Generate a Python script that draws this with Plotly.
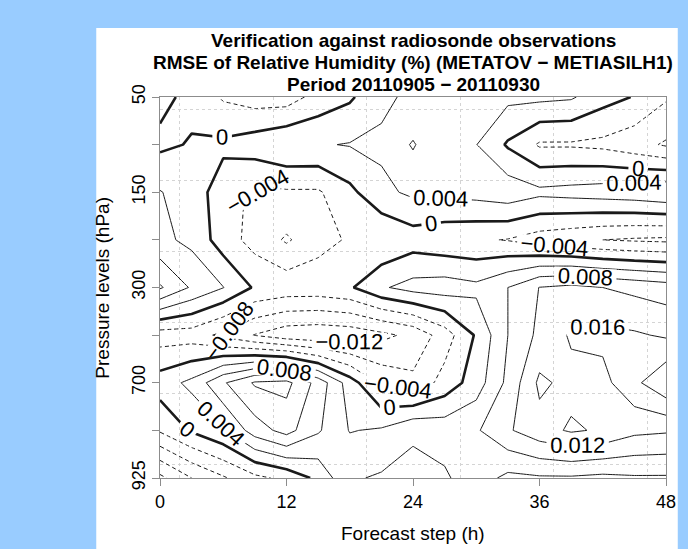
import plotly.graph_objects as go

# ---------------- data ----------------
steps = [0, 3, 6, 9, 12, 15, 18, 21, 24, 27, 30, 33, 36, 39, 42, 45, 48]
pressure_levels = ["50", "100", "150", "250", "300", "500", "700", "850", "925"]
ytick_labels = ["50", "", "150", "", "300", "", "700", "", "925"]
xtick_values = [0, 12, 24, 36, 48]

rmse_50 = [0.001, -0.001, -0.0045, -0.006, -0.006, -0.0025, -0.0006, 0.003, 0.005, 0.0055, 0.0055, 0.005, 0.005, 0.0045, 0.0015, -0.0002, -0.0035]
rmse_100 = [-0.0008, 0.0003, 0.0008, 0.0022, 0.0038, 0.0037, 0.0042, 0.0048, 0.0039, 0.005, 0.0041, -0.0005, -0.0045, -0.0045, -0.005, -0.0065, -0.0085]
rmse_150 = [0.0042, 0.002, -0.002, -0.005, -0.0045, -0.0045, -0.001, 0.003, 0.0048, 0.005, 0.0055, 0.0065, 0.005, 0.0055, 0.006, 0.0065, 0.0075]
rmse_250 = [0.005, 0.003, -0.002, -0.0055, -0.0085, -0.0055, -0.0035, -0.0038, -0.002, -0.003, -0.0035, -0.0042, -0.006, -0.007, -0.008, -0.0085, -0.0088]
rmse_300 = [0.0125, 0.0075, 0.0041, -0.0005, -0.0015, -0.0015, -0.0005, 0.0035, 0.0055, 0.006, 0.005, 0.008, 0.0121, 0.013, 0.012, 0.011, 0.010]
rmse_500 = [-0.006, -0.006, -0.009, -0.0122, -0.0145, -0.015, -0.0145, -0.013, -0.011, -0.006, 0.0005, 0.008, 0.013, 0.0165, 0.017, 0.0165, 0.0155]
rmse_700 = [0.002, 0.005, 0.0115, 0.0165, 0.0172, 0.0105, 0.002, -0.005, -0.007, -0.0025, 0.002, 0.009, 0.0168, 0.0148, 0.0148, 0.019, 0.0235]
rmse_850 = [-0.0035, 0.0005, 0.0035, 0.010, 0.0135, 0.0085, 0.0038, 0.0045, 0.0075, 0.0065, 0.0075, 0.0115, 0.0145, 0.0165, 0.0155, 0.013, 0.0125]
rmse_925 = [-0.017, -0.012, -0.0085, -0.005, -0.003, 0.001, 0.0075, 0.0085, 0.009, 0.0085, 0.006, 0.003, 0.0035, 0.0035, 0.003, 0.0035, 0.0035]

z = [rmse_50, rmse_100, rmse_150, rmse_250, rmse_300, rmse_500, rmse_700, rmse_850, rmse_925]
level_index = list(range(len(pressure_levels)))

FONT = "Liberation Sans, Arial, Helvetica, sans-serif"
LABEL_FONT = dict(family=FONT, size=22, color="black")


def contour(start, end, dash, width):
    return go.Contour(
        x=steps, y=level_index, z=z,
        autocontour=False,
        contours=dict(start=start, end=end, size=0.004, coloring="lines",
                      showlabels=True, labelfont=LABEL_FONT, labelformat=".3~f"),
        line=dict(width=width, dash=dash, smoothing=0),
        colorscale=[[0, "#1a1a1a"], [1, "#1a1a1a"]],
        showscale=False, hoverinfo="skip",
    )


fig = go.Figure()
fig.add_trace(contour(-0.032, -0.004, "4px,3px", 1))
fig.add_trace(contour(0.004, 0.032, "solid", 1))
fig.add_trace(contour(0, 0, "solid", 2.6))

W, H = 688, 549
L, R, T, B = 160, 12, 97, 71
pw, ph = W - L - R, H - T - B

fig.update_layout(
    width=W, height=H,
    margin=dict(l=L, r=R, t=T, b=B, pad=0),
    paper_bgcolor="#99ccff",
    plot_bgcolor="white",
    showlegend=False,
    font=dict(family=FONT, size=18, color="black"),
    shapes=[dict(type="rect", xref="paper", yref="paper",
                 x0=(95 - L) / pw, x1=(W - L) / pw,
                 y0=-B / ph, y1=(H - 28 - B) / ph,
                 fillcolor="white", line=dict(width=0), layer="below")],
)

fig.update_xaxes(
    range=[0, 48], tickvals=xtick_values, ticktext=[str(v) for v in xtick_values],
    showgrid=False, zeroline=False,
    showline=True, linecolor="#8c8c8c", linewidth=1, mirror=True,
    ticks="outside", ticklen=7, tickcolor="#8c8c8c",
    tickfont=dict(size=18, family=FONT),
    minor=dict(tick0=1.86, dtick=8.874, showgrid=True, gridcolor="#d4d4d4",
               griddash="dot", gridwidth=1, ticks=""),
)
fig.update_yaxes(
    range=[8, 0], tickvals=level_index, ticktext=ytick_labels,
    showgrid=False, zeroline=False,
    showline=True, linecolor="#8c8c8c", linewidth=1, mirror=True,
    ticks="outside", ticklen=7, tickcolor="#8c8c8c", tickangle=-90,
    tickfont=dict(size=18, family=FONT),
    minor=dict(tick0=0.252, dtick=1.491, showgrid=True, gridcolor="#d4d4d4",
               griddash="dot", gridwidth=1, ticks=""),
)

title_lines = [
    "Verification against radiosonde observations",
    "RMSE of Relative Humidity (%) (METATOV \u2212 METIASILH1)",
    "Period 20110905 \u2212 20110930",
]
title_y = [40, 62, 84]
for text, ypx in zip(title_lines, title_y):
    fig.add_annotation(text="<b>%s</b>" % text, xref="paper", yref="paper",
                       x=0.5, y=(H - B - ypx) / ph, showarrow=False,
                       xanchor="center", yanchor="middle",
                       font=dict(family=FONT, size=19, color="black"))

fig.add_annotation(text="Forecast step (h)", xref="paper", yref="paper",
                   x=0.5, y=-(533 - (H - B)) / ph, showarrow=False,
                   xanchor="center", yanchor="middle", font=dict(family=FONT, size=19))
fig.add_annotation(text="Pressure levels (hPa)", xref="paper", yref="paper",
                   x=(101 - L) / pw, y=0.5, showarrow=False, textangle=-90,
                   xanchor="center", yanchor="middle", font=dict(family=FONT, size=19))

fig.write_html("out.html", config={"displayModeBar": False},
               post_script="document.body.style.margin='0';")
